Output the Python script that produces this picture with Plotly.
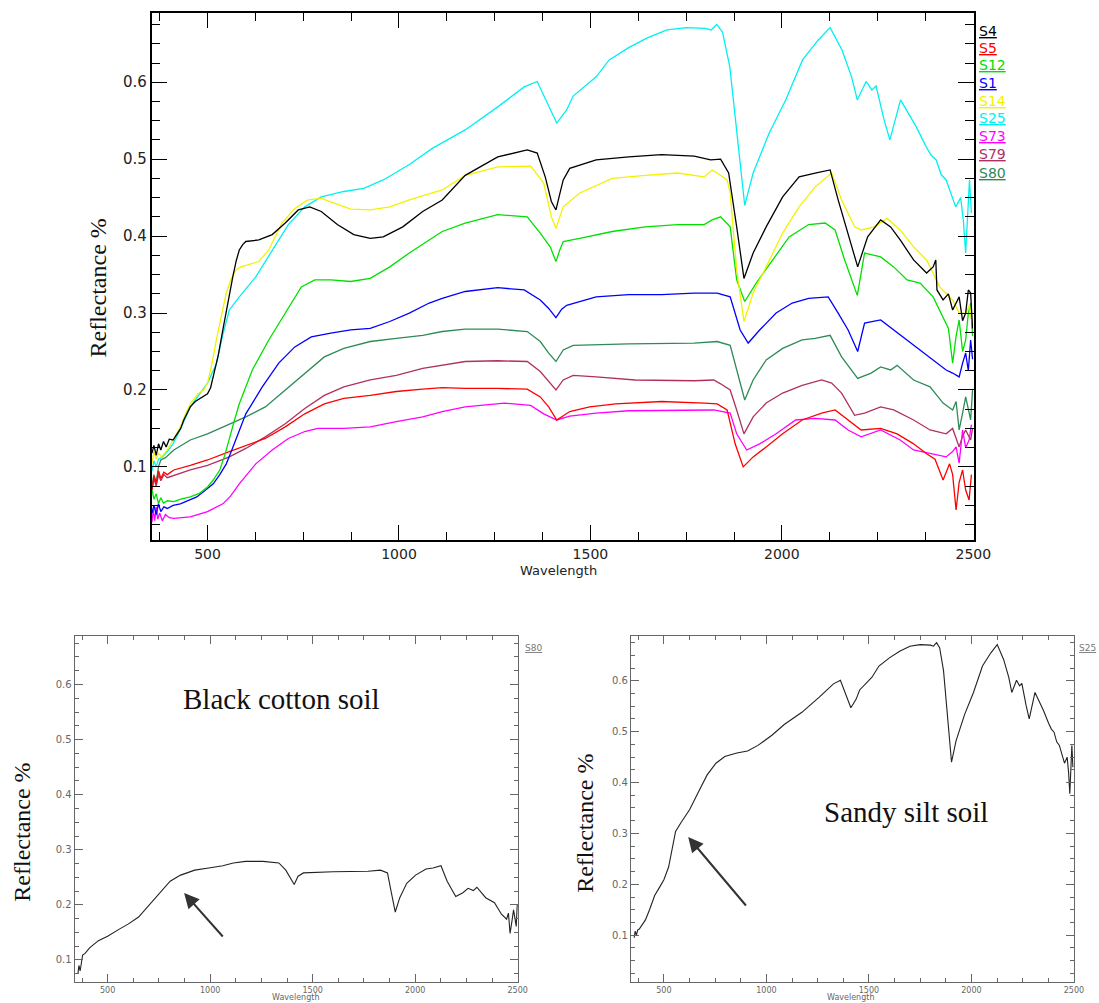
import plotly.graph_objects as go

W, H = 1099, 1003

# ---------------- data ----------------
wl_s4 = [355, 360, 366, 372, 378, 385, 392, 400, 410, 420, 430, 438, 447, 455, 468, 480, 490, 500, 508, 515,
         528, 540, 553, 566, 575, 583, 592, 600, 634, 669, 703, 737, 767, 797, 839, 882, 925, 959, 1010, 1062,
         1113, 1173, 1258, 1335, 1361, 1382, 1398, 1410, 1420, 1429, 1446, 1515, 1600, 1686, 1771, 1814, 1840, 1861, 1882, 1901,
         1925, 1959, 2002, 2045, 2087, 2126, 2147, 2173, 2198, 2224, 2258, 2284, 2309, 2344, 2378, 2395, 2402, 2405, 2421, 2435,
         2446, 2463, 2472, 2480, 2487, 2493, 2498]
r_s4 = [0.118, 0.128, 0.115, 0.130, 0.122, 0.133, 0.126, 0.136, 0.135, 0.143, 0.150, 0.161, 0.170, 0.178, 0.185, 0.189, 0.192, 0.195, 0.203, 0.217,
        0.245, 0.278, 0.315, 0.347, 0.368, 0.382, 0.389, 0.393, 0.395, 0.402, 0.417, 0.434, 0.438, 0.432, 0.415, 0.402, 0.397, 0.399, 0.412, 0.432,
        0.447, 0.479, 0.503, 0.512, 0.508, 0.477, 0.445, 0.434, 0.455, 0.473, 0.488, 0.499, 0.503, 0.506, 0.504, 0.499, 0.500, 0.482, 0.412, 0.345,
        0.378, 0.412, 0.451, 0.477, 0.482, 0.486, 0.447, 0.404, 0.360, 0.399, 0.421, 0.412, 0.395, 0.369, 0.352, 0.360, 0.369, 0.330, 0.317, 0.325,
        0.304, 0.321, 0.290, 0.300, 0.330, 0.326, 0.280]

wl_s5 = [355, 360, 366, 372, 378, 386, 395, 412, 455, 500, 557, 600, 651, 703, 754, 805, 856, 925, 993, 1062,
         1113, 1173, 1258, 1335, 1369, 1391, 1412, 1446, 1498, 1566, 1686, 1797, 1831, 1857, 1878, 1899, 1925, 1959, 2002, 2053,
         2104, 2139, 2173, 2207, 2258, 2301, 2344, 2378, 2400, 2421, 2438, 2446, 2455, 2463, 2472, 2480, 2489, 2495]
r_s5 = [0.070, 0.088, 0.078, 0.095, 0.085, 0.093, 0.090, 0.096, 0.102, 0.109, 0.120, 0.128, 0.137, 0.152, 0.169, 0.182, 0.189, 0.193, 0.198, 0.201,
        0.203, 0.202, 0.202, 0.201, 0.191, 0.178, 0.161, 0.172, 0.178, 0.182, 0.185, 0.183, 0.182, 0.174, 0.130, 0.100, 0.113, 0.126, 0.143, 0.161,
        0.170, 0.174, 0.161, 0.148, 0.150, 0.143, 0.130, 0.117, 0.110, 0.083, 0.104, 0.090, 0.044, 0.080, 0.096, 0.070, 0.057, 0.090]

wl_s12 = [355, 360, 366, 372, 378, 385, 395, 412, 430, 455, 480, 500, 515, 532, 545, 557, 570, 583, 600, 617,
          660, 703, 745, 780, 822, 874, 925, 976, 1027, 1079, 1113, 1173, 1258, 1335, 1369, 1395, 1410, 1420, 1429, 1472,
          1557, 1643, 1728, 1797, 1818, 1840, 1865, 1882, 1903, 1933, 1976, 2019, 2070, 2113, 2139, 2164, 2197, 2216, 2258, 2292,
          2327, 2361, 2395, 2421, 2435, 2446, 2455, 2463, 2472, 2480, 2487, 2493, 2498]
r_s12 = [0.070, 0.058, 0.065, 0.052, 0.060, 0.053, 0.056, 0.055, 0.058, 0.061, 0.066, 0.074, 0.083, 0.096, 0.115, 0.135, 0.160, 0.182, 0.205, 0.226,
         0.265, 0.300, 0.334, 0.343, 0.343, 0.341, 0.345, 0.360, 0.378, 0.395, 0.406, 0.417, 0.428, 0.425, 0.404, 0.386, 0.367, 0.382, 0.393, 0.397,
         0.406, 0.412, 0.415, 0.415, 0.421, 0.425, 0.412, 0.343, 0.315, 0.339, 0.369, 0.399, 0.415, 0.417, 0.408, 0.369, 0.323, 0.378, 0.373, 0.360,
         0.343, 0.339, 0.321, 0.295, 0.280, 0.235, 0.270, 0.291, 0.250, 0.265, 0.300, 0.313, 0.270]

wl_s1 = [355, 360, 366, 372, 378, 386, 395, 410, 429, 450, 472, 495, 515, 532, 549, 562, 574, 587, 600, 643,
         686, 728, 771, 822, 874, 925, 976, 1027, 1079, 1113, 1173, 1258, 1327, 1369, 1391, 1410, 1425, 1438, 1515, 1600,
         1686, 1771, 1831, 1865, 1891, 1912, 1942, 1985, 2027, 2070, 2121, 2147, 2173, 2198, 2216, 2258, 2292, 2327, 2361, 2395,
         2429, 2446, 2463, 2472, 2480, 2487, 2493, 2498]
r_s1 = [0.040, 0.050, 0.038, 0.052, 0.042, 0.048, 0.046, 0.050, 0.052, 0.056, 0.061, 0.070, 0.078, 0.090, 0.104, 0.120, 0.135, 0.152, 0.169, 0.204,
        0.235, 0.256, 0.269, 0.274, 0.278, 0.280, 0.289, 0.300, 0.313, 0.319, 0.328, 0.333, 0.330, 0.317, 0.306, 0.294, 0.305, 0.310, 0.321, 0.324,
        0.324, 0.326, 0.326, 0.321, 0.278, 0.261, 0.278, 0.300, 0.313, 0.319, 0.321, 0.300, 0.278, 0.250, 0.287, 0.291, 0.278, 0.265, 0.252, 0.239,
        0.226, 0.222, 0.217, 0.235, 0.248, 0.225, 0.265, 0.240]

wl_s14 = [355, 360, 366, 372, 380, 395, 410, 429, 442, 455, 475, 490, 500, 512, 523, 536, 549, 562, 574, 587,
          600, 634, 660, 694, 728, 762, 797, 831, 874, 925, 976, 1027, 1113, 1173, 1258, 1344, 1378, 1398, 1410, 1420,
          1429, 1472, 1557, 1643, 1728, 1797, 1818, 1831, 1857, 1865, 1882, 1901, 1925, 1959, 2002, 2045, 2087, 2130, 2156, 2190,
          2207, 2241, 2275, 2309, 2344, 2378, 2412, 2430, 2446, 2463, 2480, 2490, 2498]
r_s14 = [0.105, 0.120, 0.110, 0.118, 0.113, 0.122, 0.135, 0.152, 0.168, 0.182, 0.195, 0.200, 0.209, 0.235, 0.265, 0.298, 0.326, 0.345, 0.356, 0.360,
         0.362, 0.367, 0.382, 0.417, 0.436, 0.447, 0.449, 0.443, 0.435, 0.434, 0.438, 0.447, 0.460, 0.479, 0.490, 0.491, 0.469, 0.425, 0.410, 0.425,
         0.438, 0.456, 0.475, 0.479, 0.482, 0.477, 0.486, 0.482, 0.473, 0.456, 0.356, 0.289, 0.326, 0.360, 0.404, 0.438, 0.464, 0.482, 0.447, 0.412,
         0.408, 0.412, 0.423, 0.408, 0.386, 0.369, 0.334, 0.325, 0.317, 0.300, 0.300, 0.310, 0.282]

wl_s25 = [355, 360, 366, 372, 380, 395, 410, 430, 455, 480, 500, 523, 540, 557, 583, 626, 669, 711, 754, 797,
          856, 908, 959, 1027, 1087, 1173, 1258, 1327, 1361, 1387, 1412, 1438, 1455, 1515, 1549, 1600, 1650, 1700, 1750, 1800,
          1815, 1830, 1845, 1864, 1882, 1903, 1925, 1967, 2010, 2054, 2095, 2126, 2157, 2182, 2197, 2220, 2235, 2246, 2267, 2282,
          2310, 2330, 2351, 2377, 2390, 2403, 2416, 2429, 2442, 2454, 2467, 2474, 2480, 2486, 2490, 2495]
r_s25 = [0.095, 0.108, 0.100, 0.110, 0.112, 0.120, 0.130, 0.150, 0.178, 0.195, 0.209, 0.234, 0.272, 0.304, 0.321, 0.347, 0.382, 0.415, 0.438, 0.451,
         0.458, 0.462, 0.473, 0.493, 0.514, 0.538, 0.568, 0.594, 0.601, 0.573, 0.547, 0.564, 0.582, 0.607, 0.629, 0.645, 0.658, 0.668, 0.671, 0.670,
         0.668, 0.675, 0.665, 0.620, 0.534, 0.440, 0.482, 0.534, 0.577, 0.629, 0.655, 0.671, 0.642, 0.607, 0.577, 0.601, 0.590, 0.595, 0.551, 0.525,
         0.577, 0.560, 0.542, 0.516, 0.505, 0.499, 0.480, 0.473, 0.455, 0.438, 0.450, 0.420, 0.378, 0.440, 0.473, 0.430]

wl_s73 = [355, 358, 362, 366, 370, 375, 382, 390, 400, 412, 455, 500, 540, 560, 583, 626, 669, 711, 754, 788,
          856, 925, 993, 1062, 1113, 1173, 1275, 1344, 1378, 1412, 1446, 1515, 1600, 1728, 1822, 1865, 1882, 1908, 1942, 1985,
          2036, 2087, 2139, 2173, 2207, 2258, 2309, 2344, 2387, 2429, 2446, 2455, 2463, 2472, 2480, 2489, 2495]
r_s73 = [0.028, 0.045, 0.030, 0.048, 0.032, 0.040, 0.030, 0.038, 0.034, 0.033, 0.035, 0.042, 0.052, 0.062, 0.078, 0.104, 0.122, 0.137, 0.146, 0.150,
         0.150, 0.152, 0.159, 0.165, 0.172, 0.178, 0.183, 0.180, 0.169, 0.161, 0.166, 0.170, 0.173, 0.174, 0.174, 0.170, 0.143, 0.122, 0.130, 0.143,
         0.161, 0.163, 0.161, 0.148, 0.139, 0.148, 0.135, 0.122, 0.117, 0.113, 0.120, 0.126, 0.105, 0.148, 0.125, 0.135, 0.155]

wl_s79 = [355, 360, 366, 372, 378, 386, 395, 412, 455, 500, 557, 600, 651, 703, 754, 805, 856, 925, 993, 1062,
          1113, 1173, 1258, 1335, 1369, 1391, 1410, 1429, 1455, 1515, 1617, 1771, 1822, 1840, 1865, 1882, 1901, 1925, 1959, 2002,
          2053, 2104, 2130, 2156, 2190, 2216, 2258, 2292, 2344, 2387, 2429, 2446, 2463, 2472, 2480, 2493, 2498]
r_s79 = [0.070, 0.085, 0.075, 0.090, 0.082, 0.090, 0.086, 0.089, 0.096, 0.102, 0.113, 0.124, 0.139, 0.156, 0.176, 0.193, 0.204, 0.213, 0.219, 0.228,
         0.232, 0.237, 0.238, 0.237, 0.224, 0.211, 0.200, 0.213, 0.219, 0.217, 0.213, 0.212, 0.213, 0.208, 0.200, 0.174, 0.143, 0.165, 0.183, 0.196,
         0.206, 0.213, 0.209, 0.196, 0.167, 0.170, 0.178, 0.174, 0.161, 0.148, 0.143, 0.150, 0.126, 0.140, 0.148, 0.135, 0.150]

wl_s80 = [355, 360, 366, 372, 378, 390, 412, 455, 500, 557, 600, 651, 703, 754, 805, 856, 925, 993, 1062, 1113,
          1173, 1258, 1335, 1369, 1391, 1410, 1429, 1455, 1600, 1771, 1831, 1865, 1882, 1903, 1925, 1959, 2002, 2053, 2087, 2126,
          2156, 2181, 2198, 2233, 2258, 2284, 2301, 2344, 2387, 2421, 2446, 2455, 2463, 2472, 2480, 2487, 2493, 2498]
r_s80 = [0.075, 0.090, 0.080, 0.100, 0.109, 0.112, 0.122, 0.135, 0.143, 0.156, 0.165, 0.178, 0.200, 0.221, 0.243, 0.254, 0.263, 0.267, 0.271, 0.276,
         0.279, 0.279, 0.276, 0.263, 0.248, 0.237, 0.252, 0.258, 0.260, 0.261, 0.263, 0.258, 0.226, 0.187, 0.213, 0.239, 0.254, 0.265, 0.267, 0.271,
         0.243, 0.226, 0.215, 0.222, 0.230, 0.226, 0.232, 0.213, 0.204, 0.183, 0.174, 0.185, 0.148, 0.170, 0.191, 0.175, 0.161, 0.200]

series_names = ["S4", "S5", "S12", "S1", "S14", "S25", "S73", "S79", "S80"]
series_colors = ["#000000", "#ff0000", "#00e000", "#0000ff", "#f2f200", "#00f0f0", "#ff00ff", "#b03060", "#2e8b57"]
series_wl = [wl_s4, wl_s5, wl_s12, wl_s1, wl_s14, wl_s25, wl_s73, wl_s79, wl_s80]
series_r = [r_s4, r_s5, r_s12, r_s1, r_s14, r_s25, r_s73, r_s79, r_s80]

x_ticks = [500, 1000, 1500, 2000, 2500]
y_ticks = [0.1, 0.2, 0.3, 0.4, 0.5, 0.6]


def px(x):
    return x / W


def py(y):
    return 1 - y / H


fig = go.Figure()

order = [5, 8, 7, 6, 1, 3, 2, 4, 0]
for i in order:
    fig.add_trace(go.Scatter(x=series_wl[i], y=series_r[i], mode="lines", name=series_names[i],
                             line=dict(color=series_colors[i], width=1.3), xaxis="x", yaxis="y"))

# bottom-left: black cotton soil (S80)
fig.add_trace(go.Scatter(x=wl_s80, y=r_s80, mode="lines", line=dict(color="#222222", width=1.1),
                         xaxis="x2", yaxis="y2", name="Black cotton soil"))
# bottom-right: sandy silt soil (S25)
fig.add_trace(go.Scatter(x=wl_s25, y=r_s25, mode="lines", line=dict(color="#222222", width=1.1),
                         xaxis="x3", yaxis="y3", name="Sandy silt soil"))


def axis_common(color, lw, tlen, mlen, mdt, font_size, font_color, tickvals):
    return dict(showgrid=False, zeroline=False, showline=True, linecolor=color, linewidth=lw,
                mirror="allticks", ticks="inside", ticklen=tlen, tickwidth=1.3, tickcolor=color,
                tickvals=tickvals, ticktext=[("%g" % v) if v >= 1 else ("%.1f" % v) for v in tickvals],
                tickfont=dict(family="DejaVu Sans", size=font_size, color=font_color),
                minor=dict(ticks="inside", dtick=mdt, tick0=0, ticklen=mlen, tickwidth=1.2, tickcolor=color,
                           showgrid=False))


fig.update_layout(
    width=W, height=H, margin=dict(l=0, r=0, t=0, b=0),
    paper_bgcolor="white", plot_bgcolor="white", showlegend=False,
    xaxis=dict(domain=[px(154), px(989)], range=[354, 2501], anchor="y",
               **axis_common("#000000", 1.5, 15, 8, 125, 14, "#222222", x_ticks)),
    yaxis=dict(domain=[py(540), py(13)], range=[0.005, 0.69], anchor="x",
               **axis_common("#000000", 1.5, 16, 9, 0.025, 15, "#222222", y_ticks)),
    xaxis2=dict(domain=[px(76), px(526)], range=[340, 2501], anchor="y2",
                **axis_common("#666666", 1.4, 8, 4, 125, 8, "#666666", x_ticks)),
    yaxis2=dict(domain=[py(982), py(636)], range=[0.06, 0.688], anchor="x2",
                **axis_common("#666666", 1.4, 8, 4, 0.025, 10, "#666666", y_ticks)),
    xaxis3=dict(domain=[px(641), px(1091)], range=[340, 2501], anchor="y3",
                **axis_common("#666666", 1.4, 8, 4, 125, 8, "#666666", x_ticks)),
    yaxis3=dict(domain=[py(982), py(636)], range=[0.008, 0.688], anchor="x3",
                **axis_common("#666666", 1.4, 8, 4, 0.025, 10, "#666666", y_ticks)),
)

ann = []
leg_y = [31, 48, 65, 83, 101, 118, 136, 154, 173]
for name, col, yy in zip(series_names, series_colors, leg_y):
    ann.append(dict(text="<u>%s</u>" % name, x=px(992), y=py(yy), xref="paper", yref="paper",
                    xanchor="left", yanchor="middle", showarrow=False,
                    font=dict(family="DejaVu Sans", size=14, color=col)))

ann.append(dict(text="Reflectance %", x=px(100), y=py(288), xref="paper", yref="paper", textangle=-90,
                showarrow=False, xanchor="center", yanchor="middle",
                font=dict(family="Liberation Serif", size=24, color="#111111")))
ann.append(dict(text="Wavelength", x=px(567), y=py(570), xref="paper", yref="paper", showarrow=False,
                xanchor="center", yanchor="middle", font=dict(family="DejaVu Sans", size=13, color="#222222")))
ann.append(dict(text="Reflectance %", x=px(22), y=py(832), xref="paper", yref="paper", textangle=-90,
                showarrow=False, xanchor="center", yanchor="middle",
                font=dict(family="Liberation Serif", size=24, color="#111111")))
ann.append(dict(text="Reflectance %", x=px(594), y=py(823), xref="paper", yref="paper", textangle=-90,
                showarrow=False, xanchor="center", yanchor="middle",
                font=dict(family="Liberation Serif", size=24, color="#111111")))
ann.append(dict(text="Wavelength", x=px(300), y=py(997.5), xref="paper", yref="paper", showarrow=False,
                xanchor="center", yanchor="middle", font=dict(family="DejaVu Sans", size=8, color="#666666")))
ann.append(dict(text="Wavelength", x=px(864), y=py(997.5), xref="paper", yref="paper", showarrow=False,
                xanchor="center", yanchor="middle", font=dict(family="DejaVu Sans", size=8, color="#666666")))
ann.append(dict(text="<u>S80</u>", x=px(531), y=py(648), xref="paper", yref="paper", showarrow=False,
                xanchor="left", yanchor="middle", font=dict(family="DejaVu Sans", size=9, color="#777777")))
ann.append(dict(text="<u>S25</u>", x=px(1094), y=py(648), xref="paper", yref="paper", showarrow=False,
                xanchor="left", yanchor="middle", font=dict(family="DejaVu Sans", size=9, color="#777777")))
ann.append(dict(text="Black cotton soil", x=px(286), y=py(699), xref="paper", yref="paper", showarrow=False,
                xanchor="center", yanchor="middle", font=dict(family="Liberation Serif", size=29, color="#111111")))
ann.append(dict(text="Sandy silt soil", x=px(920), y=py(812), xref="paper", yref="paper", showarrow=False,
                xanchor="center", yanchor="middle", font=dict(family="Liberation Serif", size=29, color="#111111")))
ann.append(dict(text="", x=px(187), y=py(893), xref="paper", yref="paper", showarrow=True,
                ax=40, ay=45, arrowhead=2, arrowsize=1.5, arrowwidth=2, arrowcolor="#333333"))
ann.append(dict(text="", x=px(699), y=py(837), xref="paper", yref="paper", showarrow=True,
                ax=59, ay=70, arrowhead=2, arrowsize=1.5, arrowwidth=2, arrowcolor="#333333"))

fig.update_layout(annotations=ann)
fig.write_html("out.html")
